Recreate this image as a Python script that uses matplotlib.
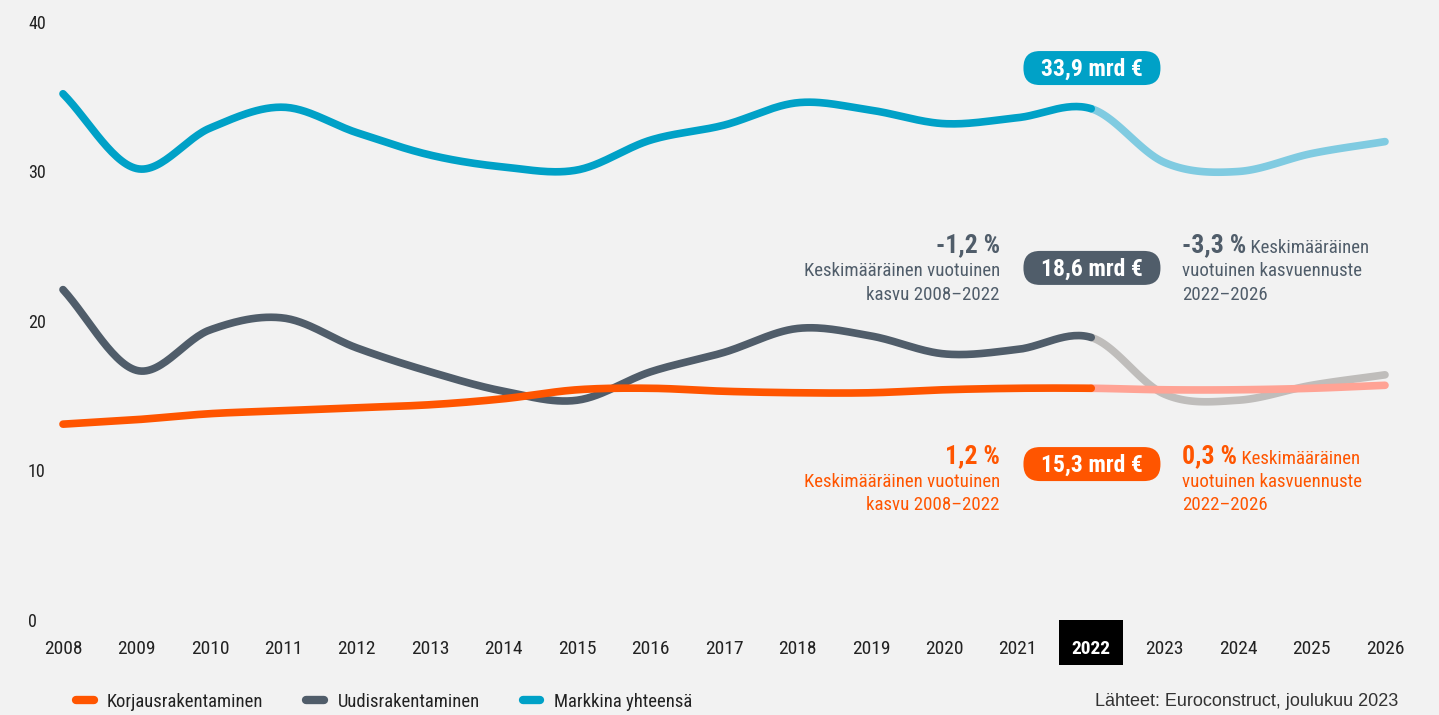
import numpy as np
import matplotlib
matplotlib.use("Agg")
import matplotlib.pyplot as plt
from matplotlib.lines import Line2D
from matplotlib.patches import FancyBboxPatch, Rectangle
from matplotlib import font_manager

# ---------------------------------------------------------------------------
# data (mrd €), 2008-2022 actual, 2023-2026 forecast
# ---------------------------------------------------------------------------
years = list(range(2008, 2027))
markkina = [35.2, 30.2, 32.9, 34.3, 32.6, 31.1, 30.3, 30.1, 32.1, 33.1,
            34.6, 34.1, 33.2, 33.6, 34.2, 30.6, 30.0, 31.2, 32.0]
uudis = [22.1, 16.7, 19.4, 20.2, 18.2, 16.6, 15.3, 14.7, 16.6, 17.9,
         19.5, 19.0, 17.8, 18.1, 18.9, 15.1, 14.7, 15.7, 16.4]
korjaus = [13.1, 13.4, 13.8, 14.0, 14.2, 14.4, 14.8, 15.4, 15.5, 15.3,
           15.2, 15.2, 15.4, 15.5, 15.5, 15.4, 15.4, 15.5, 15.7]
series_names = ["Korjausrakentaminen", "Uudisrakentaminen", "Markkina yhteensä"]
split_year = 2022
yticks = [0, 10, 20, 30, 40]

ORANGE, ORANGE_L = "#ff5500", "#ffa395"
GRAY, GRAY_L = "#505d6a", "#bfbdbb"
TEAL, TEAL_L = "#00a1c7", "#80cbe1"
INK = "#222222"
BG = "#f2f2f2"

installed = {f.name for f in font_manager.fontManager.ttflist}
COND = next((f for f in ["Roboto Condensed", "Barlow Condensed", "Archivo Narrow"]
             if f in installed), "DejaVu Sans")
plt.rcParams["font.family"] = [COND, "DejaVu Sans"]

# pixel scale of the plot area (1439x715 canvas)
PX_YEAR = (1385 - 63) / 18
PX_UNIT = (620 - 22) / 40


def smooth(x, y, n=30):
    # cubic hermite through the points, catmull-rom style tangents
    x = np.asarray(x, float)
    y = np.asarray(y, float)
    m = np.gradient(y, x)
    xs, ys = [], []
    for i in range(len(x) - 1):
        t = np.linspace(0, 1, n, endpoint=False)
        h = x[i + 1] - x[i]
        h00 = 2 * t**3 - 3 * t**2 + 1
        h10 = t**3 - 2 * t**2 + t
        h01 = -2 * t**3 + 3 * t**2
        h11 = t**3 - t**2
        xs.append(x[i] + t * h)
        ys.append(h00 * y[i] + h10 * h * m[i] + h01 * y[i + 1] + h11 * h * m[i + 1])
    xs.append([x[-1]])
    ys.append([y[-1]])
    return np.concatenate(xs), np.concatenate(ys)


fig = plt.figure(figsize=(14.39, 7.15), dpi=100, facecolor=BG)
ax = fig.add_axes([63 / 1439, 1 - 620 / 715, (1385 - 63) / 1439, (620 - 22) / 715])
ax.set_facecolor(BG)

for vals, c, cl in [(uudis, GRAY, GRAY_L), (korjaus, ORANGE, ORANGE_L), (markkina, TEAL, TEAL_L)]:
    xs, ys = smooth(years, vals)
    hist = xs <= split_year
    fc = xs >= split_year
    ax.plot(xs[fc], ys[fc], color=cl, lw=5.5, solid_capstyle="round", clip_on=False)
    ax.plot(xs[hist], ys[hist], color=c, lw=5.5, solid_capstyle="round", clip_on=False)

ax.set_xlim(2008, 2026)
ax.set_ylim(0, 40)
for s in ax.spines.values():
    s.set_visible(False)
ax.set_xticks(years)
ax.set_yticks(yticks)
ax.tick_params(length=0, colors=INK)
ax.tick_params(axis="x", pad=14.5, labelsize=14)
ax.tick_params(axis="y", pad=25.2, labelsize=13)
for lab in ax.get_yticklabels():
    lab.set_horizontalalignment("left")
for lab in ax.get_xticklabels():
    if lab.get_text() == str(split_year):
        lab.set_color("white")
        lab.set_fontweight("bold")

# black box behind the current year
ax.add_patch(Rectangle((split_year - 32 / PX_YEAR, -45 / 598), 64 / PX_YEAR, 45 / 598,
                       transform=ax.get_xaxis_transform(), fc="black", ec="none",
                       clip_on=False, zorder=0.5))

# value pills at 2022
pw, ph = 137 / PX_YEAR, 34 / PX_UNIT
for yv, txt, c in [(36.92, "33,9 mrd €", TEAL), (23.55, "18,6 mrd €", GRAY), (10.43, "15,3 mrd €", ORANGE)]:
    ax.add_patch(FancyBboxPatch((2022.01 - pw / 2, yv - ph / 2), pw, ph,
                                boxstyle="round,pad=0,rounding_size=%.4f" % (16.5 / PX_YEAR),
                                mutation_aspect=PX_YEAR / PX_UNIT, fc=c, ec="none",
                                clip_on=False, zorder=3))
    ax.text(2022.01, yv - 0.1, txt, fontsize=17, fontweight="bold", color="white",
            ha="center", va="center", zorder=4)

# growth notes, left of the pills
xl = 2008 + (1000 - 63) / PX_YEAR
for yb, pct, c in [(24.6, "-1,2 %", GRAY), (10.52, "1,2 %", ORANGE)]:
    ax.text(xl, yb, pct, ha="right", va="baseline", fontsize=18.5, fontweight="bold", color=c)
    ax.text(xl, yb - 1.62, "Keskimääräinen vuotuinen", ha="right", va="baseline", fontsize=13.6, color=c)
    ax.text(xl, yb - 3.18, "kasvu 2008–2022", ha="right", va="baseline", fontsize=13.6, color=c)

# growth notes, right of the pills
xr = 2008 + (1182 - 63) / PX_YEAR
for yb, pct, c in [(24.6, "-3,3 %", GRAY), (10.52, "0,3 %", ORANGE)]:
    t = ax.text(xr, yb, pct, ha="left", va="baseline", fontsize=18.5, fontweight="bold", color=c)
    ax.annotate(" Keskimääräinen", xy=(1, 0), xycoords=t, ha="left", va="bottom",
                fontsize=13.6, color=c)
    ax.text(xr, yb - 1.62, "vuotuinen kasvuennuste", ha="left", va="baseline", fontsize=13.6, color=c)
    ax.text(xr, yb - 3.18, "2022–2026", ha="left", va="baseline", fontsize=13.6, color=c)

handles = [Line2D([], [], color=c, lw=6, solid_capstyle="round") for c in (ORANGE, GRAY, TEAL)]
fig.legend(handles, series_names, loc="center left", bbox_to_anchor=(76 / 1439, 1 - 702 / 715),
           ncol=3, frameon=False, fontsize=13.4, handlelength=0.95, handletextpad=0.72,
           columnspacing=2.3, borderpad=0, borderaxespad=0, labelcolor=INK)

fig.text(1398 / 1439, 1 - 702 / 715, "Lähteet: Euroconstruct, joulukuu 2023", ha="right",
         va="center", fontsize=13, color="#333333", family=["Liberation Sans", "DejaVu Sans"])

fig.savefig("out.png", dpi=100, facecolor=BG)
